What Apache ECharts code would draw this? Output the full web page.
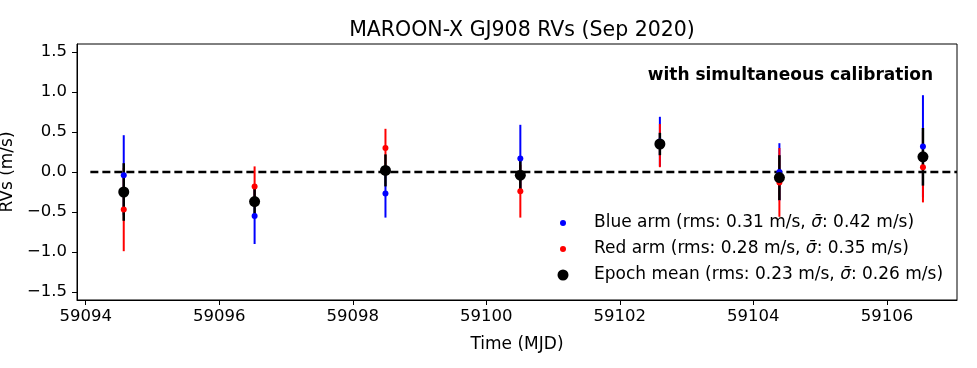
<!DOCTYPE html>
<html>
<head>
<meta charset="utf-8">
<script src="https://cdn.jsdelivr.net/npm/echarts@6/dist/echarts.min.js"></script>
<style>
  html, body { margin: 0; padding: 0; background: #fff; }
  #chart { width: 977px; height: 368px; }
</style>
</head>
<body>
<div id="chart"></div>
<script>
// epochs (MJD) and RVs
const mjd = [59094.57, 59096.53, 59098.49, 59100.51, 59102.60, 59104.39, 59106.54];
const blueRv = [-0.04, -0.55, -0.27, 0.17, 0.38, 0.00, 0.32];
const blueErr = [0.50, 0.35, 0.30, 0.42, 0.31, 0.36, 0.64];
const redRv = [-0.47, -0.18, 0.30, -0.24, 0.33, -0.13, 0.06];
const redErr = [0.52, 0.25, 0.24, 0.33, 0.27, 0.43, 0.44];
const meanRv = [-0.25, -0.37, 0.02, -0.04, 0.35, -0.07, 0.19];
const meanErr = [0.36, 0.20, 0.20, 0.20, 0.14, 0.28, 0.36];

const xTicks = [59094, 59096, 59098, 59100, 59102, 59104, 59106];
const yTicks = [-1.5, -1.0, -0.5, 0.0, 0.5, 1.0, 1.5];
const legendNames = ['Blue arm', 'Red arm', 'Epoch mean'];
const legendRms = ['0.31', '0.28', '0.23'];
const legendSigma = ['0.42', '0.35', '0.26'];

const font = 'DejaVu Sans';
const chart = echarts.init(document.getElementById('chart'));

function pts(ys) {
  return mjd.map((x, i) => [x, ys[i]]);
}
function bars(ys, es) {
  return mjd.map((x, i) => [x, ys[i] - es[i], ys[i] + es[i]]);
}
function errorSeries(ys, es, color, width, z) {
  return {
    type: 'custom',
    z: z,
    data: bars(ys, es),
    renderItem: function (params, api) {
      const lo = api.coord([api.value(0), api.value(1)]);
      const hi = api.coord([api.value(0), api.value(2)]);
      return {
        type: 'line',
        shape: { x1: lo[0], y1: lo[1], x2: hi[0], y2: hi[1] },
        style: { stroke: color, lineWidth: width }
      };
    }
  };
}

const legendColors = ['#0000ff', '#ff0000', '#000000'];
const legendR = [3, 3, 5.5];
const legendY = [223, 249, 275];
const legendGraphics = [];
legendNames.forEach((name, i) => {
  legendGraphics.push({
    type: 'circle', shape: { cx: 563, cy: legendY[i], r: legendR[i] },
    style: { fill: legendColors[i] }
  });
  legendGraphics.push({
    type: 'text', x: 594, y: legendY[i],
    style: {
      text: name + ' (rms: ' + legendRms[i] + ' m/s, {it|σ̄}: ' + legendSigma[i] + ' m/s)',
      font: '17px "' + font + '"', fill: '#000', verticalAlign: 'middle',
      rich: { it: { fontStyle: 'italic', fontSize: 17, fontFamily: font } }
    }
  });
});

const option = {
  animation: false,
  textStyle: { fontFamily: font },
  title: {
    text: 'MAROON-X GJ908 RVs (Sep 2020)',
    left: 517, top: 15, textAlign: 'center',
    textStyle: { fontSize: 20.5, fontWeight: 'normal', color: '#000', fontFamily: font }
  },
  grid: { left: 77, right: 20, top: 44, bottom: 68, outerBoundsMode: 'none', containLabel: false },
  xAxis: {
    type: 'value', min: 59093.87, max: 59107.05,
    name: 'Time (MJD)', nameLocation: 'middle', nameGap: 36,
    nameTextStyle: { fontSize: 17, color: '#000' },
    axisLine: { onZero: false, lineStyle: { color: '#000', width: 1 } },
    axisTick: { inside: false, length: 5, lineStyle: { color: '#000' }, customValues: xTicks },
    axisLabel: { fontSize: 16.5, color: '#000', margin: 8, customValues: xTicks,
      formatter: v => String(Math.round(v)) },
    splitLine: { show: false }
  },
  yAxis: {
    type: 'value', min: -1.6, max: 1.6,
    name: 'RVs (m/s)', nameLocation: 'middle', nameGap: 53, nameRotate: 90,
    nameTextStyle: { fontSize: 17, color: '#000' },
    axisLine: { show: true, onZero: false, lineStyle: { color: '#000', width: 1 } },
    axisTick: { show: true, inside: false, length: 5, lineStyle: { color: '#000' }, customValues: yTicks },
    axisLabel: { fontSize: 16.5, color: '#000', margin: 10, customValues: yTicks,
      formatter: v => v.toFixed(1).replace('-', '\u2212') },
    splitLine: { show: false }
  },
  graphic: [
    {
      type: 'rect', z: 100, silent: true,
      shape: { x: 77, y: 44, width: 880, height: 256 },
      style: { fill: 'none', stroke: '#000', lineWidth: 1 }
    },
    {
      type: 'text', x: 933, y: 76,
      style: { text: 'with simultaneous calibration', font: 'bold 17px "' + font + '"', fill: '#000',
        align: 'right', verticalAlign: 'middle' }
    }
  ].concat(legendGraphics),
  series: [
    {
      type: 'line', z: 1, symbol: 'none', silent: true,
      data: [[59094.07, 0], [59107.05, 0]],
      lineStyle: { color: '#000', width: 2.5, type: [8, 4] }
    },
    errorSeries(blueRv, blueErr, '#0000ff', 2, 2),
    errorSeries(redRv, redErr, '#ff0000', 2, 3),
    errorSeries(meanRv, meanErr, '#000000', 2.5, 4),
    { type: 'scatter', z: 5, data: pts(blueRv), symbolSize: 6, itemStyle: { color: '#0000ff', opacity: 1 } },
    { type: 'scatter', z: 6, data: pts(redRv), symbolSize: 6, itemStyle: { color: '#ff0000', opacity: 1 } },
    { type: 'scatter', z: 7, data: pts(meanRv), symbolSize: 11, itemStyle: { color: '#000000', opacity: 1 } }
  ]
};

chart.setOption(option);
</script>
</body>
</html>
